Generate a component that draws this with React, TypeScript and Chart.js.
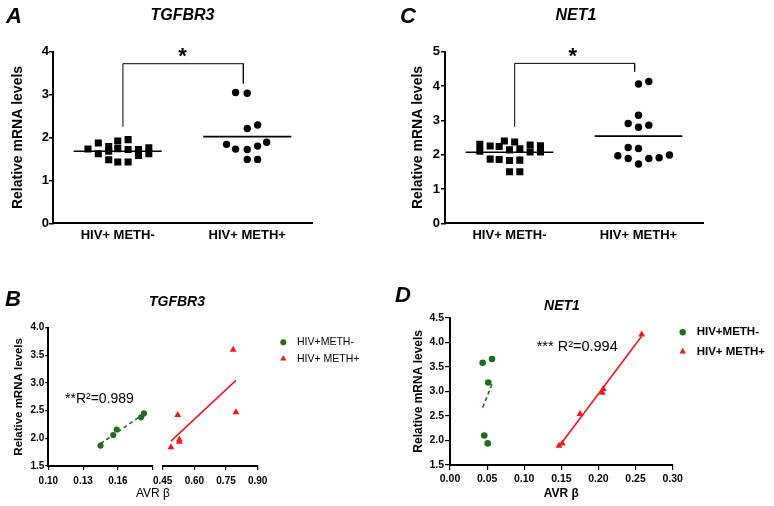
import React, { useEffect, useRef } from 'react';
import { Chart, registerables } from 'chart.js';

Chart.register(...registerables);

const FONT = "'Liberation Sans', Arial, Helvetica, sans-serif";
Chart.defaults.font.family = FONT;
Chart.defaults.color = '#000000';

const BLACK = '#000000';
const GREEN = '#1e6e1e';
const RED = '#ec1c1c';

// ---------- categories / series ----------
const GROUPS = ['HIV+ METH-', 'HIV+ METH+'];
const SERIES = ['HIV+METH-', 'HIV+ METH+'];
const Y_TITLE = 'Relative mRNA levels';
const X_TITLE = 'AVR β';

// ---------- Panel A: TGFBR3 ----------
const tgfNegX = [0.77, 0.85, 0.85, 0.93, 0.93, 0.93, 1.0, 1.0, 1.0, 1.08, 1.08, 1.08, 1.16, 1.16, 1.24, 1.24];
const tgfNegY = [1.73, 1.87, 1.62, 1.79, 1.68, 1.48, 1.92, 1.74, 1.43, 1.95, 1.72, 1.43, 1.72, 1.58, 1.76, 1.62];
const tgfPosX = [1.91, 2.0, 2.0, 2.08, 1.84, 1.91, 2.0, 2.08, 2.15, 2.0, 2.08];
const tgfPosY = [3.05, 3.03, 2.21, 2.29, 1.84, 1.73, 1.72, 1.8, 1.89, 1.49, 1.49];
const tgfMeans = [1.68, 2.02];
const tgfBracketX = [1.04, 1.04, 1.97, 1.97];
const tgfBracketY = [2.25, 3.72, 3.72, 3.26];
const tgfStar = { x: 1.5, y: 4.03, text: '*' };

// ---------- Panel C: NET1 ----------
const netNegX = [0.77, 0.77, 0.85, 0.85, 0.92, 0.92, 0.96, 1.0, 1.0, 1.0, 1.04, 1.08, 1.08, 1.08, 1.16, 1.16, 1.24, 1.24];
const netNegY = [2.3, 2.1, 2.25, 1.87, 2.24, 1.86, 2.4, 2.14, 1.83, 1.5, 2.37, 2.17, 1.84, 1.5, 2.28, 2.08, 2.26, 2.08];
const netPosX = [2.0, 2.08, 2.0, 1.92, 2.0, 2.08, 1.92, 2.0, 1.84, 1.92, 2.0, 2.08, 2.16, 2.24];
const netPosY = [4.06, 4.13, 3.15, 2.91, 2.8, 2.86, 2.21, 2.18, 1.97, 1.89, 1.73, 1.89, 1.91, 1.99];
const netMeans = [2.07, 2.54];
const netBracketX = [1.04, 1.04, 1.97, 1.97];
const netBracketY = [2.81, 4.66, 4.66, 4.42];
const netStar = { x: 1.49, y: 5.05, text: '*' };

// ---------- Panel B: TGFBR3 vs AVR beta ----------
const bNegBeta = [0.145, 0.156, 0.159, 0.18, 0.1825];
const bNegMrna = [1.87, 2.06, 2.16, 2.38, 2.45];
const bPosBeta = [0.489, 0.521, 0.529, 0.529, 0.784, 0.797];
const bPosMrna = [1.84, 2.42, 1.98, 1.94, 3.6, 2.47];
const bR2 = '**R²=0.989';

// ---------- Panel D: NET1 vs AVR beta ----------
const dNegBeta = [0.044, 0.0566, 0.0516, 0.0462, 0.0508];
const dNegMrna = [3.58, 3.66, 3.18, 2.1, 1.94];
const dPosBeta = [0.1468, 0.1513, 0.1751, 0.2052, 0.2065, 0.2582];
const dPosMrna = [1.89, 1.94, 2.54, 2.97, 3.05, 4.16];
const dR2 = '*** R²=0.994';

// ---------- helpers ----------
type Pt = { x: number; y: number };
const pts = (xs: number[], ys: number[]): Pt[] => xs.map((x, i) => ({ x, y: ys[i] }));

function fitLine(xs: number[], ys: number[]): Pt[] {
  const n = xs.length;
  const mx = xs.reduce((a, b) => a + b, 0) / n;
  const my = ys.reduce((a, b) => a + b, 0) / n;
  let sxy = 0;
  let sxx = 0;
  xs.forEach((x, i) => {
    sxy += (x - mx) * (ys[i] - my);
    sxx += (x - mx) * (x - mx);
  });
  const k = sxy / sxx;
  const x0 = Math.min(...xs);
  const x1 = Math.max(...xs);
  return [
    { x: x0, y: my + k * (x0 - mx) },
    { x: x1, y: my + k * (x1 - mx) },
  ];
}

type Label = {
  text: string;
  x: number;
  y: number;
  size: number;
  weight?: string;
  style?: string;
  align?: CanvasTextAlign;
  baseline?: CanvasTextBaseline;
};

function labelsPlugin(labels: Label[]) {
  return {
    id: 'panelLabels',
    afterDraw(chart: any) {
      const ctx = chart.ctx;
      ctx.save();
      labels.forEach((l) => {
        ctx.font = `${l.style || 'normal'} ${l.weight || 'normal'} ${l.size}px ${FONT}`;
        ctx.fillStyle = BLACK;
        ctx.textAlign = l.align || 'left';
        ctx.textBaseline = l.baseline || 'alphabetic';
        ctx.fillText(l.text, l.x, l.y);
      });
      ctx.restore();
    },
  };
}

function starPlugin(star: { x: number; y: number; text: string }, size: number) {
  return {
    id: 'sigStar',
    afterDraw(chart: any) {
      const ctx = chart.ctx;
      const px = chart.scales.x.getPixelForValue(star.x);
      const py = chart.scales.y.getPixelForValue(star.y);
      ctx.save();
      ctx.font = `bold ${size}px ${FONT}`;
      ctx.fillStyle = BLACK;
      ctx.textAlign = 'center';
      ctx.textBaseline = 'alphabetic';
      ctx.fillText(star.text, px, py + 0.57 * size);
      ctx.restore();
    },
  };
}

function legendPlugin(o: { x: number; y0: number; dy: number; r: number; textX: number; size: number; weight: string }) {
  return {
    id: 'sideLegend',
    afterDraw(chart: any) {
      const ctx = chart.ctx;
      const ds = chart.data.datasets.slice(0, 2);
      ctx.save();
      ds.forEach((d: any, i: number) => {
        const cy = o.y0 + i * o.dy;
        ctx.fillStyle = d.backgroundColor;
        ctx.beginPath();
        if (d.pointStyle === 'triangle') {
          const r = o.r * 1.2;
          ctx.moveTo(o.x, cy - r);
          ctx.lineTo(o.x + r * 0.866, cy + r / 2);
          ctx.lineTo(o.x - r * 0.866, cy + r / 2);
          ctx.closePath();
        } else {
          ctx.arc(o.x, cy, o.r, 0, Math.PI * 2);
        }
        ctx.fill();
        ctx.fillStyle = BLACK;
        ctx.font = `${o.weight} ${o.size}px ${FONT}`;
        ctx.textAlign = 'left';
        ctx.textBaseline = 'middle';
        ctx.fillText(d.label, o.textX, cy);
      });
      ctx.restore();
    },
  };
}

// ---------- column scatter (panels A and C) ----------
const MEAN_HALF = 0.34;

function columnConfig(o: any) {
  return {
    type: 'scatter',
    data: {
      datasets: [
        { label: GROUPS[0], data: pts(o.negX, o.negY), pointStyle: 'rect', pointRadius: 5, backgroundColor: BLACK, borderWidth: 0 },
        { label: GROUPS[1], data: pts(o.posX, o.posY), pointStyle: 'circle', pointRadius: 3.7, backgroundColor: BLACK, borderWidth: 0 },
        {
          label: 'mean1',
          data: [{ x: 1 - MEAN_HALF, y: o.means[0] }, { x: 1 + MEAN_HALF, y: o.means[0] }],
          showLine: true, pointRadius: 0, borderColor: BLACK, borderWidth: 1.6,
        },
        {
          label: 'mean2',
          data: [{ x: 2 - MEAN_HALF, y: o.means[1] }, { x: 2 + MEAN_HALF, y: o.means[1] }],
          showLine: true, pointRadius: 0, borderColor: BLACK, borderWidth: 1.6,
        },
        {
          label: 'bracket', data: pts(o.bracketX, o.bracketY),
          showLine: true, pointRadius: 0, borderColor: BLACK, borderWidth: 1, clip: false,
        },
      ],
    },
    options: {
      responsive: false,
      animation: false,
      events: [],
      layout: { padding: { top: 51.7, right: o.padRight, bottom: 0, left: 0 } },
      plugins: { legend: { display: false }, tooltip: { enabled: false } },
      scales: {
        x: {
          type: 'linear', min: 0.5, max: 2.5,
          afterBuildTicks: (s: any) => { s.ticks = [{ value: 1 }, { value: 2 }]; },
          ticks: {
            callback: (v: any) => GROUPS[Math.round(Number(v)) - 1],
            font: { size: 13, weight: 'bold' }, color: BLACK, padding: 4.4, maxRotation: 0, autoSkip: false,
          },
          grid: { drawOnChartArea: false, drawTicks: false },
          border: { color: BLACK, width: 2 },
          afterFit: (s: any) => { s.height = 29.7; },
        },
        y: {
          type: 'linear', min: 0, max: o.yMax,
          ticks: { stepSize: 1, font: { size: 13, weight: 'bold' }, color: BLACK, padding: o.yTickPad, autoSkip: false },
          grid: { drawOnChartArea: false, color: BLACK, lineWidth: 1.5, tickLength: 4 },
          border: { color: BLACK, width: 2 },
          title: {
            display: true, text: Y_TITLE, color: BLACK,
            font: { size: 14, weight: 'bold' }, padding: { top: o.yTitlePad, bottom: 0 },
          },
          afterFit: (s: any) => { s.width = o.yWidth; },
        },
      },
    },
    plugins: [
      starPlugin(o.star, 22),
      labelsPlugin([
        { text: o.letter, x: o.letterX, y: 23.3, size: 22, weight: 'bold', style: 'italic' },
        { text: o.title, x: o.titleX, y: 20, size: 16, weight: 'bold', style: 'italic', align: 'center' },
      ]),
    ],
  };
}

const buildA = () =>
  columnConfig({
    negX: tgfNegX, negY: tgfNegY, posX: tgfPosX, posY: tgfPosY, means: tgfMeans,
    bracketX: tgfBracketX, bracketY: tgfBracketY, star: tgfStar, yMax: 4,
    yWidth: 53, yTitlePad: 9.4, yTickPad: 0, padRight: 75,
    letter: 'A', letterX: 6, title: 'TGFBR3', titleX: 182.5,
  });

const buildC = () =>
  columnConfig({
    negX: netNegX, negY: netNegY, posX: netPosX, posY: netPosY, means: netMeans,
    bracketX: netBracketX, bracketY: netBracketY, star: netStar, yMax: 5,
    yWidth: 58, yTitlePad: 22.9, yTickPad: 1, padRight: 71,
    letter: 'C', letterX: 13, title: 'NET1', titleX: 189,
  });

// ---------- Panel B (broken x axis) ----------
const buildB = () => ({
  type: 'scatter',
  data: {
    datasets: [
      { label: SERIES[0], data: pts(bNegBeta, bNegMrna), xAxisID: 'xLow', yAxisID: 'y', pointStyle: 'circle', pointRadius: 3.1, backgroundColor: GREEN, borderWidth: 0 },
      { label: SERIES[1], data: pts(bPosBeta, bPosMrna), xAxisID: 'xHigh', yAxisID: 'y', pointStyle: 'triangle', pointRadius: 4, backgroundColor: RED, borderWidth: 0 },
      { label: 'fit1', data: fitLine(bNegBeta, bNegMrna), xAxisID: 'xLow', yAxisID: 'y', showLine: true, pointRadius: 0, borderColor: GREEN, borderWidth: 1.6, borderDash: [4, 3] },
      { label: 'fit2', data: fitLine(bPosBeta, bPosMrna), xAxisID: 'xHigh', yAxisID: 'y', showLine: true, pointRadius: 0, borderColor: RED, borderWidth: 1.6 },
    ],
  },
  options: {
    responsive: false,
    animation: false,
    events: [],
    layout: { padding: { top: 74.7, right: 129.3, bottom: 0, left: 0 } },
    plugins: { legend: { display: false }, tooltip: { enabled: false } },
    scales: {
      y: {
        type: 'linear', min: 1.5, max: 4.0,
        ticks: { stepSize: 0.5, callback: (v: any) => Number(v).toFixed(1), font: { size: 10, weight: 'bold' }, color: BLACK, padding: 1, autoSkip: false },
        grid: { drawOnChartArea: false, color: BLACK, lineWidth: 1.2, tickLength: 3 },
        border: { color: BLACK, width: 2 },
        title: { display: true, text: Y_TITLE, color: BLACK, font: { size: 11.5, weight: 'bold' }, padding: { top: 11.6, bottom: 0 } },
        afterFit: (s: any) => { s.width = 48.3; },
      },
      xLow: {
        type: 'linear', position: 'bottom', stack: 'avr', stackWeight: 104.4, min: 0.1, max: 0.19,
        ticks: { stepSize: 0.03, callback: (v: any) => (Number(v) > 0.185 ? '' : Number(v).toFixed(2)), font: { size: 10, weight: 'bold' }, color: BLACK, padding: 5, maxRotation: 0, autoSkip: false },
        grid: { drawOnChartArea: false, color: BLACK, lineWidth: 1.2, tickLength: 4 },
        border: { color: BLACK, width: 2 },
        afterFit: (s: any) => { s.height = 28; },
      },
      xGap: {
        type: 'linear', position: 'bottom', stack: 'avr', stackWeight: 10,
        ticks: { display: false }, grid: { display: false }, border: { display: false },
        afterFit: (s: any) => { s.height = 28; },
      },
      xHigh: {
        type: 'linear', position: 'bottom', stack: 'avr', stackWeight: 95, min: 0.45, max: 0.9,
        ticks: { stepSize: 0.15, callback: (v: any) => Number(v).toFixed(2), font: { size: 10, weight: 'bold' }, color: BLACK, padding: 5, maxRotation: 0, autoSkip: false },
        grid: { drawOnChartArea: false, color: BLACK, lineWidth: 1.2, tickLength: 4 },
        border: { color: BLACK, width: 2 },
        afterFit: (s: any) => { s.height = 28; },
      },
      xTitle: {
        type: 'linear', position: 'bottom',
        ticks: { display: false }, grid: { display: false }, border: { display: false },
        title: { display: true, text: X_TITLE, color: BLACK, font: { size: 12 }, padding: { top: 0, bottom: 4.8 } },
        afterFit: (s: any) => { s.height = 12; },
      },
    },
  },
  plugins: [
    legendPlugin({ x: 283.3, y0: 89.2, dy: 16.5, r: 3, textX: 297, size: 10.5, weight: 'normal' }),
    labelsPlugin([
      { text: 'B', x: 5, y: 53, size: 22, weight: 'bold', style: 'italic' },
      { text: 'TGFBR3', x: 177, y: 52.5, size: 14, weight: 'bold', style: 'italic', align: 'center' },
      { text: bR2, x: 65, y: 146.5, size: 14, baseline: 'middle' },
    ]),
  ],
});

// ---------- Panel D ----------
const buildD = () => ({
  type: 'scatter',
  data: {
    datasets: [
      { label: SERIES[0], data: pts(dNegBeta, dNegMrna), pointStyle: 'circle', pointRadius: 3.3, backgroundColor: GREEN, borderWidth: 0 },
      { label: SERIES[1], data: pts(dPosBeta, dPosMrna), pointStyle: 'triangle', pointRadius: 4, backgroundColor: RED, borderWidth: 0 },
      { label: 'fit1', data: fitLine(dNegBeta, dNegMrna), showLine: true, pointRadius: 0, borderColor: GREEN, borderWidth: 1.6, borderDash: [4, 3] },
      { label: 'fit2', data: fitLine(dPosBeta, dPosMrna), showLine: true, pointRadius: 0, borderColor: RED, borderWidth: 1.6 },
    ],
  },
  options: {
    responsive: false,
    animation: false,
    events: [],
    layout: { padding: { top: 64.7, right: 101.3, bottom: 0, left: 0 } },
    plugins: { legend: { display: false }, tooltip: { enabled: false } },
    scales: {
      x: {
        type: 'linear', min: 0, max: 0.3,
        ticks: { stepSize: 0.05, callback: (v: any) => Number(v).toFixed(2), font: { size: 10.5, weight: 'bold' }, color: BLACK, padding: 2.7, maxRotation: 0, autoSkip: false },
        grid: { drawOnChartArea: false, color: BLACK, lineWidth: 1.2, tickLength: 5 },
        border: { color: BLACK, width: 2 },
        title: { display: true, text: X_TITLE, color: BLACK, font: { size: 12, weight: 'bold' }, padding: { top: 0, bottom: 5.5 } },
        afterFit: (s: any) => { s.height = 41; },
      },
      y: {
        type: 'linear', min: 1.5, max: 4.5,
        ticks: { stepSize: 0.5, callback: (v: any) => Number(v).toFixed(1), font: { size: 10.5, weight: 'bold' }, color: BLACK, padding: 1, autoSkip: false },
        grid: { drawOnChartArea: false, color: BLACK, lineWidth: 1.2, tickLength: 5 },
        border: { color: BLACK, width: 2 },
        title: { display: true, text: Y_TITLE, color: BLACK, font: { size: 12, weight: 'bold' }, padding: { top: 24.1, bottom: 0 } },
        afterFit: (s: any) => { s.width = 63; },
      },
    },
  },
  plugins: [
    legendPlugin({ x: 295.7, y0: 79.3, dy: 19.4, r: 3.2, textX: 309.7, size: 11.5, weight: 'bold' }),
    labelsPlugin([
      { text: 'D', x: 8, y: 49, size: 22, weight: 'bold', style: 'italic' },
      { text: 'NET1', x: 175, y: 57, size: 14, weight: 'bold', style: 'italic', align: 'center' },
      { text: dR2, x: 149.7, y: 93.7, size: 14.5, baseline: 'middle' },
    ]),
  ],
});

// ---------- components ----------
function ChartPanel(props: { left: number; top: number; width: number; height: number; build: () => any }) {
  const ref = useRef<HTMLCanvasElement | null>(null);
  const { left, top, width, height, build } = props;
  useEffect(() => {
    if (!ref.current) return;
    const chart = new Chart(ref.current, build());
    return () => chart.destroy();
  }, [build]);
  return (
    <canvas
      ref={ref}
      width={width}
      height={height}
      style={{ position: 'absolute', left, top, width, height, display: 'block' }}
    />
  );
}

export default function App() {
  return (
    <div style={{ position: 'absolute', left: 0, top: 0, width: 774, height: 506, background: '#ffffff', overflow: 'hidden' }}>
      <ChartPanel left={0} top={0} width={387} height={253} build={buildA} />
      <ChartPanel left={387} top={0} width={387} height={253} build={buildC} />
      <ChartPanel left={0} top={253} width={387} height={253} build={buildB} />
      <ChartPanel left={387} top={253} width={387} height={253} build={buildD} />
    </div>
  );
}
